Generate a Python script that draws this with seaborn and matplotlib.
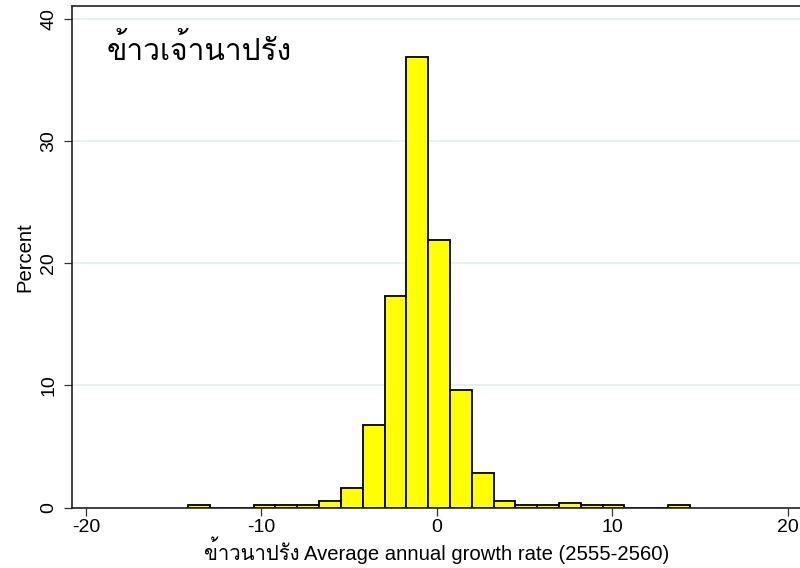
import matplotlib
matplotlib.use("Agg")
import numpy as np
import pandas as pd
import seaborn as sns
import matplotlib.pyplot as plt
from matplotlib import font_manager
from matplotlib.ft2font import FT2Font

# Histogram bin edges (growth rate, %) and share of observations per bin (%)
bin_edges = [-14.17, -12.93, -11.69, -10.44, -9.20, -7.95, -6.71, -5.47, -4.22,
             -2.98, -1.74, -0.49, 0.75, 2.00, 3.24, 4.48, 5.73, 6.97, 8.21,
             9.46, 10.70, 11.94, 13.19, 14.43]
percent = [0.19, 0.0, 0.0, 0.19, 0.19, 0.19, 0.55, 1.62, 6.76, 17.31, 36.95,
           21.93, 9.63, 2.85, 0.57, 0.19, 0.19, 0.38, 0.19, 0.19, 0.0, 0.0, 0.19]

x_ticks = [-20, -10, 0, 10, 20]
y_ticks = [0, 10, 20, 30, 40]
title_text = "ข้าวเจ้านาปรัง"
x_label = "ข้าวนาปรัง Average annual growth rate (2555-2560)"
y_label = "Percent"


def family_with(ch):
    """Return an installed font family that has a glyph for ch,
    preferring upright faces of regular weight."""
    found = []
    for f in font_manager.fontManager.ttflist:
        try:
            if ord(ch) in FT2Font(f.fname).get_charmap():
                found.append(f)
        except Exception:
            continue
    if not found:
        return None
    found.sort(key=lambda f: (f.style != "normal",
                              abs((f.weight if isinstance(f.weight, int) else 400) - 400)))
    return found[0].name


sns.set_theme(style="white")
thai = family_with("ข")
families = ["Liberation Sans"] + ([thai] if thai else []) + ["DejaVu Sans"]
plt.rcParams["font.family"] = families
plt.rcParams["axes.unicode_minus"] = False
plt.rcParams["text.color"] = "black"
plt.rcParams["axes.labelcolor"] = "black"

edges = np.array(bin_edges)
mids = (edges[:-1] + edges[1:]) / 2
df = pd.DataFrame({"growth": mids, "percent": percent})

fig = plt.figure(figsize=(8.0, 5.68), dpi=100)
ax = fig.add_axes([0.09, 0.1065, 0.912, 0.8829])

sns.histplot(data=df, x="growth", weights="percent", bins=bin_edges,
             stat="count", color="#FFFF00", edgecolor="black", linewidth=1.3,
             alpha=1.0, ax=ax)

ax.set_xlim(-20.8, 20.8)
ax.set_ylim(0, 41.1)
ax.set_xticks(x_ticks)
ax.set_yticks(y_ticks)
ax.set_axisbelow(True)
ax.yaxis.grid(True, color="#E4EDF0", linewidth=1.2)
ax.xaxis.grid(False)

for side in ("left", "bottom", "top"):
    ax.spines[side].set_visible(True)
    ax.spines[side].set_color("#222222")
    ax.spines[side].set_linewidth(1.2)
ax.spines["right"].set_visible(False)

ax.tick_params(axis="both", direction="out", length=5.5, width=0.9,
               color="#333333", labelsize=14, labelcolor="black")
ax.tick_params(axis="x", pad=3, bottom=True)
ax.tick_params(axis="y", pad=5, left=True)
for lab in ax.get_yticklabels():
    lab.set_rotation(90)
    lab.set_va("center")
    lab.set_ha("right")

ax.set_xlabel(x_label, fontsize=14.6, labelpad=0)
ax.set_ylabel(y_label, fontsize=14.6, labelpad=4)

ax.text(-18.8, 36.7, title_text, fontsize=21.5, fontweight="light",
        ha="left", va="baseline", color="black")

fig.savefig("out.png", dpi=100)
